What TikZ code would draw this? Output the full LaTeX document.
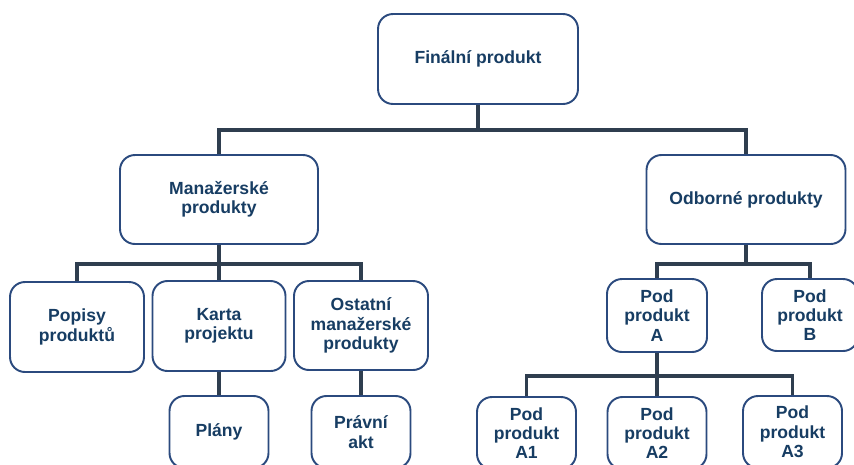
\documentclass[tikz,border=0pt]{standalone}
\usepackage{fontspec}
\setmainfont{Liberation Sans}
\usetikzlibrary{positioning,calc}
\definecolor{boxline}{HTML}{2B4A7E}
\definecolor{boxtext}{HTML}{173D63}
\definecolor{connline}{HTML}{2F3E4F}

\tikzset{
  prodbox/.style={draw=boxline, line width=1.1pt, rounded corners=8.5pt, fill=white,
    align=center, text=boxtext, font=\fontsize{10}{11}\selectfont\bfseries, inner sep=2pt},
  conn/.style={draw=connline, line width=1.8pt}
}

\begin{document}
\begin{tikzpicture}[x=0.02cm, y=-0.02cm]
  \clip (0,0) rectangle (854,464);
  \fill[white] (0,0) rectangle (854,464);

  % top level
  \node[prodbox, minimum width=4cm, minimum height=1.8cm] (final) at (478,59) {Finální produkt};

  % second level
  \node[prodbox, minimum width=3.96cm, minimum height=1.78cm] (manazer) at (219,199.5) {Manažerské\\produkty};
  \node[prodbox, minimum width=3.98cm, minimum height=1.78cm] (odborne) at (746,199.5) {Odborné produkty};

  % management products
  \node[prodbox, minimum width=2.68cm, minimum height=1.8cm] (popisy) at (77,327) {Popisy\\produktů};
  \node[prodbox, minimum width=2.66cm, minimum height=1.8cm] (karta) at (219,326) {Karta\\projektu};
  \node[prodbox, minimum width=2.68cm, minimum height=1.78cm] (ostatni) at (361,325.5) {Ostatní\\manažerské\\produkty};
  \node[prodbox, minimum width=1.98cm, minimum height=1.44cm] (plany) at (219,432) {Plány};
  \node[prodbox, minimum width=1.98cm, minimum height=1.44cm] (pravni) at (361,432) {Právní\\akt};

  % specialist products
  \node[prodbox, minimum width=2cm, minimum height=1.46cm] (podA) at (657,315.5) {Pod\\produkt\\A};
  \node[prodbox, minimum width=1.92cm, minimum height=1.44cm] (podB) at (810,315) {Pod\\produkt\\B};
  \node[prodbox, minimum width=1.98cm, minimum height=1.44cm] (podA1) at (526.5,433) {Pod\\produkt\\A1};
  \node[prodbox, minimum width=1.98cm, minimum height=1.44cm] (podA2) at (657,433) {Pod\\produkt\\A2};
  \node[prodbox, minimum width=1.98cm, minimum height=1.44cm] (podA3) at (792.5,432) {Pod\\produkt\\A3};

  % junctions
  \coordinate (jfinal) at (478,130);
  \coordinate (jmanazer) at (219,264);
  \coordinate (jodborne) at (746,264);
  \coordinate (jpodA) at (657,376);

  % connectors
  \draw[conn] (final.south) -- (jfinal);
  \draw[conn] (manazer.north) |- (jfinal) -| (odborne.north);

  \draw[conn] (manazer.south) -- (jmanazer) -- (karta.north);
  \draw[conn] (popisy.north) |- (jmanazer) -| (ostatni.north);
  \draw[conn] (karta.south) -- (plany.north);
  \draw[conn] (ostatni.south) -- (pravni.north);

  \draw[conn] (odborne.south) -- (jodborne);
  \draw[conn] (podA.north) |- (jodborne) -| (podB.north);

  \draw[conn] (podA.south) -- (jpodA) -- (podA2.north);
  \draw[conn] (podA1.north) |- (jpodA) -| (podA3.north);
\end{tikzpicture}
\end{document}
